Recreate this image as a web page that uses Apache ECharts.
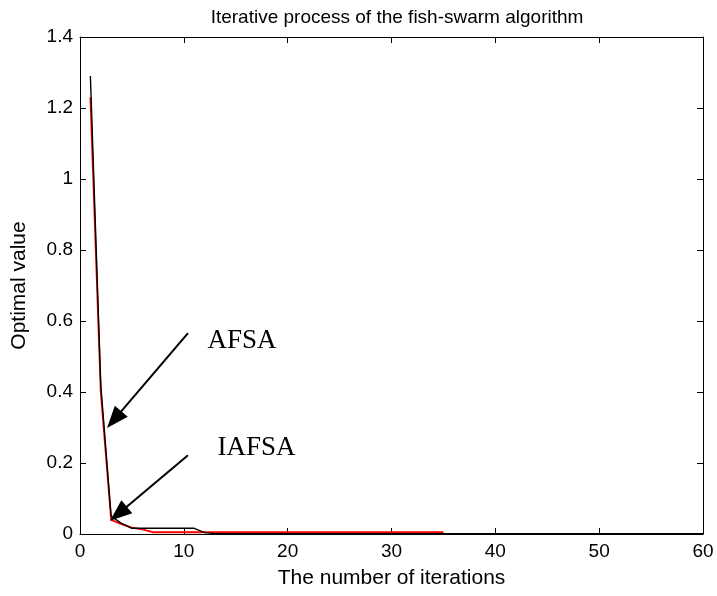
<!DOCTYPE html>
<html>
<head>
<meta charset="utf-8">
<script src="https://cdn.jsdelivr.net/npm/echarts@6/dist/echarts.min.js"></script>
<style>
html,body{margin:0;padding:0;background:#fff;}
#chart{width:717px;height:596px;}
</style>
</head>
<body>
<div id="chart"></div>
<script>
const titleText = 'Iterative process of the fish-swarm algorithm';
const xName = 'The number of iterations';
const yName = 'Optimal value';
const xTicks = [0, 10, 20, 30, 40, 50, 60];
const yTicks = [0, 0.2, 0.4, 0.6, 0.8, 1, 1.2, 1.4];

// AFSA (black solid), iterations 1..60
const afsaValues = [1.29, 0.42, 0.05, 0.03, 0.016, 0.016, 0.016, 0.016, 0.016, 0.016,
  0.016, 0.004, 0.001, 0.001, 0.001, 0.001, 0.001, 0.001, 0.001, 0.001,
  0.001, 0.001, 0.001, 0.001, 0.001, 0.001, 0.001, 0.001, 0.001, 0.001,
  0.001, 0.001, 0.001, 0.001, 0.001, 0.001, 0.001, 0.001, 0.001, 0.001,
  0.001, 0.001, 0.001, 0.001, 0.001, 0.001, 0.001, 0.001, 0.001, 0.001,
  0.001, 0.001, 0.001, 0.001, 0.001, 0.001, 0.001, 0.001, 0.001, 0.001];
// IAFSA (red), iterations 1..35
const iafsaValues = [1.23, 0.40, 0.04, 0.028, 0.018, 0.013, 0.005, 0.005, 0.005, 0.005,
  0.005, 0.005, 0.005, 0.005, 0.005, 0.005, 0.005, 0.005, 0.005, 0.005,
  0.005, 0.005, 0.005, 0.005, 0.005, 0.005, 0.005, 0.005, 0.005, 0.005,
  0.005, 0.005, 0.005, 0.005, 0.005];

// annotation arrows: [tail, arrowhead centre] in data coordinates
const afsaArrow = [[10.4, 0.566], [3.29, 0.322]];
const iafsaArrow = [[10.4, 0.222], [3.70, 0.057]];
const afsaLabelPos = [15.6, 0.544];
const iafsaLabelPos = [17.0, 0.242];

const toPairs = vals => vals.map((v, i) => [i + 1, v]);

const font = "'Liberation Sans', Arial, sans-serif";
const serif = "'Liberation Serif', 'Times New Roman', serif";

const chart = echarts.init(document.getElementById('chart'), null, {renderer: 'canvas'});

const axisLineStyle = {color: '#000', width: 1};
const baseX = {
  type: 'value', min: xTicks[0], max: xTicks[xTicks.length - 1], interval: 10,
  splitLine: {show: false},
  axisLine: {show: true, onZero: false, lineStyle: axisLineStyle},
  axisTick: {show: true, inside: true, length: 6, lineStyle: {color: '#000'}}
};
const baseY = {
  type: 'value', min: yTicks[0], max: yTicks[yTicks.length - 1], interval: 0.2,
  splitLine: {show: false},
  axisLine: {show: true, onZero: false, lineStyle: axisLineStyle},
  axisTick: {show: true, inside: true, length: 6, lineStyle: {color: '#000'}}
};

chart.setOption({
  animation: false,
  backgroundColor: '#fff',
  title: {
    text: titleText, left: 392, textAlign: 'center', top: 3,
    textStyle: {fontFamily: font, fontSize: 19, fontWeight: 'normal', color: '#000'}
  },
  grid: {left: 80, right: 14, top: 37, bottom: 62},
  xAxis: [
    Object.assign({}, baseX, {
      position: 'bottom', name: xName, nameLocation: 'middle', nameGap: 34,
      nameTextStyle: {fontFamily: font, fontSize: 21, color: '#000'},
      axisLabel: {fontFamily: font, fontSize: 19, color: '#000', margin: 8,
        formatter: v => String(v)}
    }),
    Object.assign({}, baseX, {position: 'top', axisLabel: {show: false}})
  ],
  yAxis: [
    Object.assign({}, baseY, {
      position: 'left', name: yName, nameLocation: 'middle', nameGap: 50,
      nameTextStyle: {fontFamily: font, fontSize: 21, color: '#000'},
      axisLabel: {fontFamily: font, fontSize: 19, color: '#000', margin: 7,
        formatter: v => (Math.round(v * 10) / 10).toString()}
    }),
    Object.assign({}, baseY, {position: 'right', axisLabel: {show: false}})
  ],
  series: [
    {
      name: 'IAFSA', type: 'line', data: toPairs(iafsaValues), showSymbol: false,
      lineStyle: {color: '#ff0000', width: 1.8, type: 'solid'}, z: 2
    },
    {
      name: 'AFSA', type: 'line', data: toPairs(afsaValues), showSymbol: false,
      lineStyle: {color: '#000', width: 1.4, type: 'solid'}, z: 3
    },
    {
      name: 'annotations', type: 'line', data: [], z: 4,
      markLine: {
        silent: true, animation: false,
        symbol: ['none', 'triangle'], symbolSize: [17, 22],
        label: {show: false},
        lineStyle: {color: '#000', width: 2, type: 'solid'},
        data: [
          [{coord: afsaArrow[0]}, {coord: afsaArrow[1]}],
          [{coord: iafsaArrow[0]}, {coord: iafsaArrow[1]}]
        ]
      },
      markPoint: {
        silent: true, symbol: 'circle', symbolSize: 0,
        label: {show: true, position: 'inside', fontFamily: serif, fontSize: 27, color: '#000'},
        data: [
          {coord: afsaLabelPos, value: 'AFSA', label: {formatter: 'AFSA'}},
          {coord: iafsaLabelPos, value: 'IAFSA', label: {formatter: 'IAFSA'}}
        ]
      }
    }
  ]
});
</script>
</body>
</html>
